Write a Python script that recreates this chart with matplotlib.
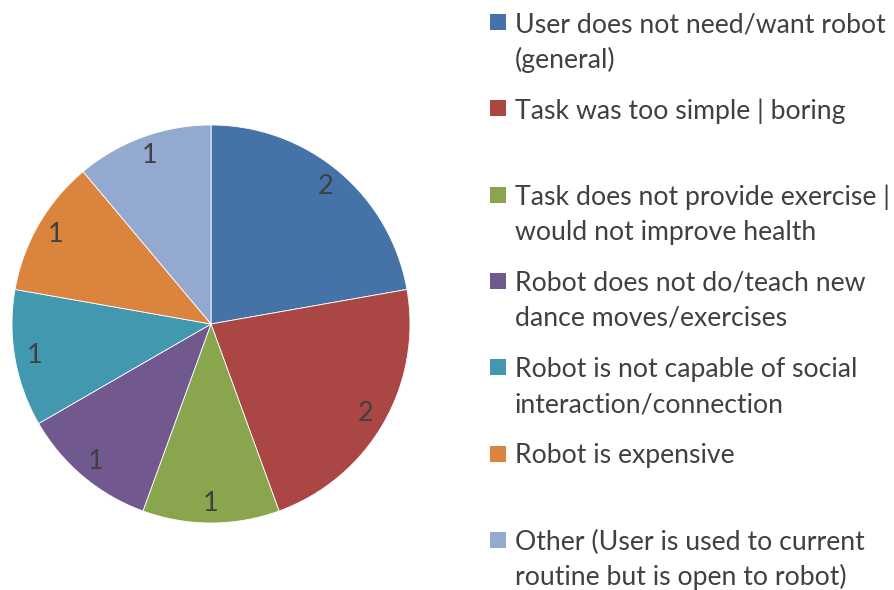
import matplotlib
matplotlib.use("Agg")
import matplotlib.pyplot as plt
from matplotlib.patches import Rectangle

categories = [
    "User does not need/want robot\n(general)",
    "Task was too simple | boring",
    "Task does not provide exercise |\nwould not improve health",
    "Robot does not do/teach new\ndance moves/exercises",
    "Robot is not capable of social\ninteraction/connection",
    "Robot is expensive",
    "Other (User is used to current\nroutine but is open to robot)",
]
values = [2, 2, 1, 1, 1, 1, 1]
colors = ["#4572A7", "#AA4643", "#89A54E", "#71588F", "#4198AF", "#DB843D", "#93A9CF"]

W, H = 895, 590
fig = plt.figure(figsize=(W / 100, H / 100), dpi=100)
fig.patch.set_facecolor("white")

# pie axes: centre (211, 324), radius 199 px
cx, cy, r = 211, 324, 199
ax = fig.add_axes([(cx - r) / W, (H - cy - r) / H, 2 * r / W, 2 * r / H])
total = sum(values)
wedges, _, autotexts = ax.pie(
    values, colors=colors, startangle=90, counterclock=False,
    radius=1.0, autopct=lambda p: f"{round(p * total / 100):d}",
    pctdistance=0.9, wedgeprops=dict(linewidth=0.6, edgecolor="white"),
    textprops=dict(fontsize=19.5, color="#404040", family="Lato"),
)
ax.set_xlim(-1, 1)
ax.set_ylim(-1, 1)
ax.set_aspect("equal")
ax.axis("off")

# legend drawn manually
fs = 19.2
top = 22        # pixel y of first line centre
slot = 86.3     # entry spacing
line_h = 35     # line spacing
sq = 16
for i, (lab, col) in enumerate(zip(categories, colors)):
    y0 = top + i * slot
    fig.patches.append(Rectangle(((490) / W, (H - y0 - sq / 2) / H), sq / W, sq / H,
                                 transform=fig.transFigure, facecolor=col, edgecolor="none"))
    for j, line in enumerate(lab.split("\n")):
        y = y0 + j * line_h
        fig.text(515 / W, (H - y) / H, line, fontsize=fs, family="Lato",
                 color="#404040", va="center_baseline", ha="left")

fig.savefig("out.png", dpi=100)
